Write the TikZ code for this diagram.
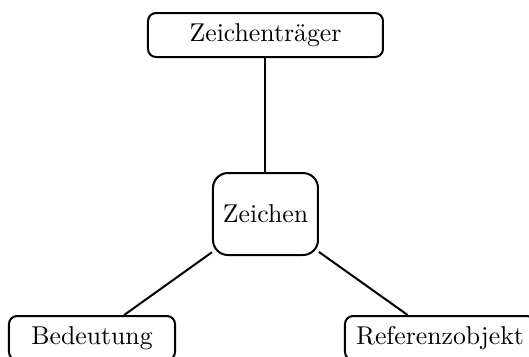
\documentclass[tikz,border=0pt]{standalone}
\usepackage{tikz}
\usetikzlibrary{positioning}

\begin{document}
\begin{tikzpicture}[x=0.4pt, y=-0.4pt, every node/.style={font=\fontsize{10.3}{12}\selectfont},
    zbox/.style={draw, thick, rounded corners=3.2pt, inner sep=0pt, minimum height=17.6pt}]
            % Frame of the picture
            \useasboundingbox (0,0) rectangle (529,356);
            %%%%%%%%%%%%%%% Nodes
            \node[zbox, minimum width=94pt] (traeger) at (265.5,35) {Zeichenträger};
            \node[zbox, rounded corners=6pt, minimum width=42pt, minimum height=32.8pt] (zeichen) at (265.5,214) {Zeichen};
            \node[zbox, minimum width=66.4pt] (bedeutung) at (92,338) {Bedeutung};
            \node[zbox, minimum width=76pt] (referenz) at (440,338) {Referenzobjekt};
            %%%%%%%%%%%%%%% Connections to the sign
            \foreach \n in {traeger,bedeutung,referenz} {
                \draw[thick] (zeichen) -- (\n);
            }
        \end{tikzpicture}
\end{document}
